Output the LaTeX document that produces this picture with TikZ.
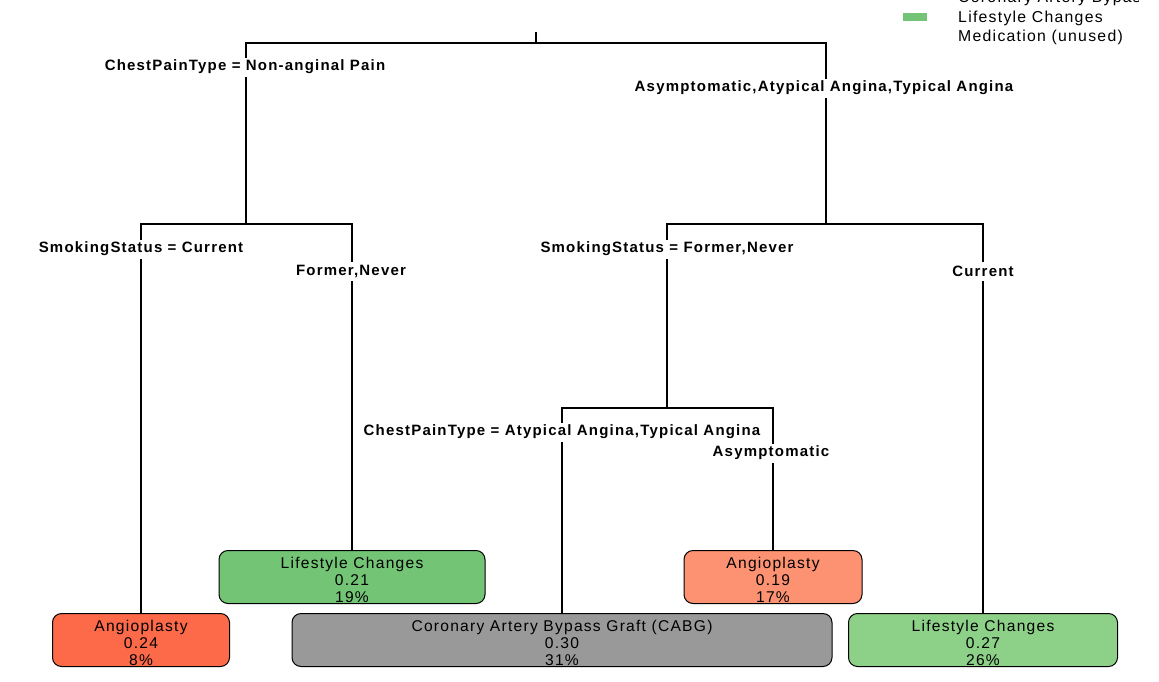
\documentclass[tikz,border=0pt]{standalone}
\usepackage{fontspec}
\setmainfont{Liberation Sans}
\newfontfamily\treefont[LetterSpace=8]{Liberation Sans}
\begin{document}
\begin{tikzpicture}[x=1pt,y=-1pt,
    branch/.style={line width=1.2pt},
    split/.style={fill=white,inner sep=1pt,minimum height=19pt,
        font=\treefont\bfseries\fontsize{15}{16}\selectfont},
    leaf/.style={draw=black,line width=1pt,rounded corners=9pt,anchor=north,
        align=center,inner sep=0pt,font=\treefont\fontsize{15.6}{16.6}\selectfont},
    legtext/.style={anchor=west,inner sep=0pt,font=\treefont\fontsize{15.8}{16}\selectfont}]

    % Colors
    \definecolor{angiodark}{RGB}{252,106,74} % tomato
    \definecolor{angiolight}{RGB}{252,146,114} % salmon
    \definecolor{lifedark}{RGB}{116,196,118} % green
    \definecolor{lifelight}{RGB}{141,209,137} % light green
    \definecolor{cabg}{RGB}{153,153,153} % gray

    \useasboundingbox (0,0) rectangle (1159,681);

    % Split points
    \coordinate (top) at (536,32);
    \coordinate (root) at (536,43);
    \coordinate (nL) at (246,224);
    \coordinate (nR) at (826,224);
    \coordinate (nRL) at (667,408);

    % Leaves
    \foreach \name/\x/\y/\w/\col/\cls/\prob/\pct in {
        leafA/141/613/177/angiodark/Angioplasty/0.24/8,
        leafB/352/550/266/lifedark/Lifestyle Changes/0.21/19,
        leafC/562/613/540/cabg/Coronary Artery Bypass Graft (CABG)/0.30/31,
        leafD/773/550/178/angiolight/Angioplasty/0.19/17,
        leafE/983/613/269/lifelight/Lifestyle Changes/0.27/26} {
        \node[leaf,fill=\col,minimum width=\w pt,minimum height=53pt]
            (\name) at (\x,\y) {\rule{0pt}{17pt}\cls\\\prob\\\pct\%};
    }

    % Branches
    \draw[branch] (top) -- (root);
    \draw[branch] (root) -| (nL);
    \draw[branch] (root) -| (nR);
    \draw[branch] (nL) -| (leafA.north);
    \draw[branch] (nL) -| (leafB.north);
    \draw[branch] (nR) -| (nRL);
    \draw[branch] (nR) -| (leafE.north);
    \draw[branch] (nRL) -| (leafC.north);
    \draw[branch] (nRL) -| (leafD.north);

    % Split labels
    \node[split] (s1) at (245,67) {ChestPainType = Non-anginal Pain};
    \node[split] (s2) at (824,88) {Asymptomatic,Atypical Angina,Typical Angina};
    \node[split] (s3) at (141,249) {SmokingStatus = Current};
    \node[split] (s4) at (351,271) {Former,Never};
    \node[split] (s5) at (667,249) {SmokingStatus = Former,Never};
    \node[split] (s6) at (983,271) {Current};
    \node[split] (s7) at (562,432) {ChestPainType = Atypical Angina,Typical Angina};
    \node[split] (s8) at (771,453) {Asymptomatic};

    % Legend
    \begin{scope}
        \clip (0,0) rectangle (1138,681);
        \fill[lifedark] (903,13) rectangle (927,21);
        \node[legtext] (leg1) at (958,-2) {Coronary Artery Bypass Graft (CABG)};
        \node[legtext] (leg2) at (958,18) {Lifestyle Changes};
        \node[legtext] (leg3) at (958,37) {Medication (unused)};
    \end{scope}

\end{tikzpicture}
\end{document}
